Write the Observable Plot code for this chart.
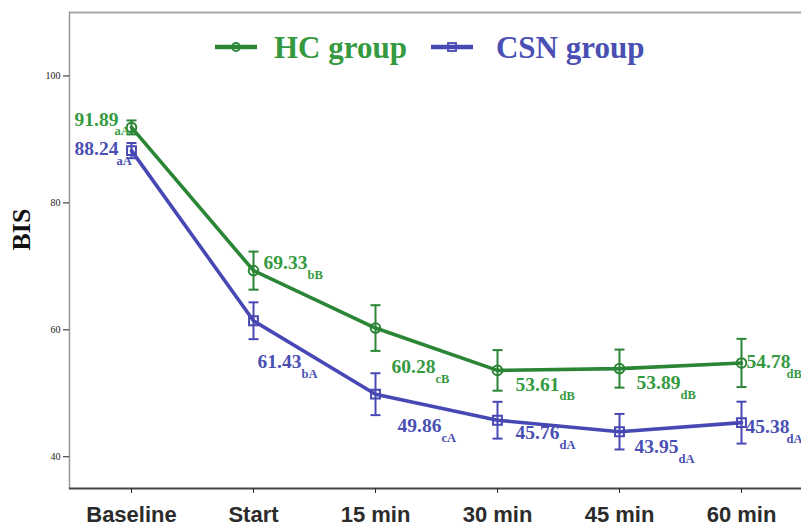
<!DOCTYPE html>
<html>
<head>
<meta charset="utf-8">
<script src="https://cdn.jsdelivr.net/npm/d3@7"></script>
<script src="https://cdn.jsdelivr.net/npm/@observablehq/plot@0.6"></script>
<style>
  html, body { margin: 0; padding: 0; background: #fff; overflow: hidden; }
  #wrap { position: relative; width: 801px; height: 530px; }
  #legend { position: absolute; left: 215px; top: 30px; height: 34px; display: flex; align-items: center;
            font-family: "Liberation Serif", "Times New Roman", serif; font-weight: bold; font-size: 31px; line-height: 1; }
  #legend svg { display: block; }
</style>
</head>
<body>
<div id="wrap">
  <div id="chart"></div>
  <div id="legend"></div>
</div>
<script>
// ---- data ----
const times = ["Baseline", "Start", "15 min", "30 min", "45 min", "60 min"];
const hcMean = [91.89, 69.33, 60.28, 53.61, 53.89, 54.78];
const hcErr = [1.1, 3.0, 3.6, 3.2, 3.0, 3.8];
const hcSig = ["aA", "bB", "cB", "dB", "dB", "dB"];
const csnMean = [88.24, 61.43, 49.86, 45.76, 43.95, 45.38];
const csnErr = [1.2, 2.9, 3.3, 2.9, 2.8, 3.3];
const csnSig = ["aA", "bA", "cA", "dA", "dA", "dA"];
const yTicks = [40, 60, 80, 100];
const groups = ["HC group", "CSN group"];

// ---- layout (label offsets in px, relative to each point; [dx, dy, subscript dx]) ----
const hcLabelOffset = [[-57, -8, 40], [10, -8, 44], [16, 39, 44], [18, 14, 44], [17, 14, 44], [5, -1, 40]];
const csnLabelOffset = [[-57, -2, 42], [4, 41, 44], [22, 32, 44], [18, 13, 44], [15, 15, 44], [4, 4, 41]];

const greenLine = "#2a8535", greenText = "#359a3f";
const blueLine = "#4848b4", blueText = "#4a4fb3";

const hc = times.map((t, i) => ({time: t, mean: hcMean[i], err: hcErr[i], sig: hcSig[i]}));
const csn = times.map((t, i) => ({time: t, mean: csnMean[i], err: csnErr[i], sig: csnSig[i]}));

const capSymbol = {
  draw(ctx, size) {
    const w = Math.sqrt(size / Math.PI);
    ctx.moveTo(-w, 0);
    ctx.lineTo(w, 0);
  }
};

function seriesMarks(data, lineColor, textColor, symbol, offsets) {
  const marks = [
    Plot.line(data, {x: "time", y: "mean", stroke: lineColor, strokeWidth: 3.6}),
    Plot.ruleX(data, {x: "time", y1: d => d.mean - d.err, y2: d => d.mean + d.err, stroke: lineColor, strokeWidth: 2}),
    Plot.dot(data, {x: "time", y: d => d.mean - d.err, symbol: capSymbol, r: 5, stroke: lineColor, strokeWidth: 2}),
    Plot.dot(data, {x: "time", y: d => d.mean + d.err, symbol: capSymbol, r: 5, stroke: lineColor, strokeWidth: 2}),
    Plot.dot(data, {x: "time", y: "mean", symbol, r: symbol === "square" ? 5 : 4.8, stroke: lineColor, strokeWidth: 2, fill: "none"})
  ];
  data.forEach((d, i) => {
    const [dx, dy, sdx] = offsets[i];
    marks.push(Plot.text([d], {x: "time", y: "mean", text: d => d.mean.toFixed(2), dx, dy,
      textAnchor: "start", fill: textColor, fontFamily: "Liberation Serif", fontWeight: "bold", fontSize: 19.5}));
    marks.push(Plot.text([d], {x: "time", y: "mean", text: "sig", dx: dx + sdx, dy: dy + 12,
      textAnchor: "start", fill: textColor, fontFamily: "Liberation Serif", fontWeight: "bold", fontSize: 12.5}));
  });
  return marks;
}

const chart = Plot.plot({
  width: 801,
  height: 530,
  marginLeft: 69,
  marginRight: 0,
  marginTop: 12,
  marginBottom: 42,
  style: {background: "#fff"},
  x: {type: "point", domain: times, range: [130, 742], padding: 0},
  y: {domain: [35, 110]},
  marks: [
    Plot.ruleY([110], {stroke: "#a8a8a8", strokeWidth: 2}),
    Plot.frame({anchor: "left", stroke: "#999", strokeWidth: 1.5}),
    Plot.ruleY([35], {stroke: "#444", strokeWidth: 2}),
    Plot.axisY({ticks: yTicks, tickSize: 6, tickPadding: 3, label: null, fontFamily: "Liberation Serif", fontSize: 10, color: "#222"}),
    Plot.axisX({tickSize: 5, tickPadding: 13, label: null, fontFamily: "Liberation Sans", fontWeight: "bold", fontSize: 22, color: "#2b2b2b"}),
    Plot.text(["BIS"], {frameAnchor: "left", dx: -48, rotate: -90, fontFamily: "Liberation Serif", fontWeight: "bold", fontSize: 26, fill: "#111"}),
    ...seriesMarks(hc, greenLine, greenText, "circle", hcLabelOffset),
    ...seriesMarks(csn, blueLine, blueText, "square", csnLabelOffset)
  ]
});
document.getElementById("chart").appendChild(chart);

// legend
const legend = document.getElementById("legend");
const legendItems = [
  {name: groups[0], line: greenLine, text: greenText, symbol: "circle"},
  {name: groups[1], line: blueLine, text: blueText, symbol: "square"}
];
legendItems.forEach((it, i) => {
  const ns = "http://www.w3.org/2000/svg";
  const s = document.createElementNS(ns, "svg");
  s.setAttribute("width", 42); s.setAttribute("height", 14);
  s.style.marginLeft = i === 0 ? "0px" : "24px";
  const l = document.createElementNS(ns, "line");
  l.setAttribute("x1", 0); l.setAttribute("x2", 42); l.setAttribute("y1", 7); l.setAttribute("y2", 7);
  l.setAttribute("stroke", it.line); l.setAttribute("stroke-width", 4.5);
  s.appendChild(l);
  let m;
  if (it.symbol === "circle") {
    m = document.createElementNS(ns, "circle");
    m.setAttribute("cx", 21); m.setAttribute("cy", 7); m.setAttribute("r", 4);
  } else {
    m = document.createElementNS(ns, "rect");
    m.setAttribute("x", 17); m.setAttribute("y", 3); m.setAttribute("width", 8); m.setAttribute("height", 8);
  }
  m.setAttribute("fill", "none"); m.setAttribute("stroke", it.line); m.setAttribute("stroke-width", 1.8);
  s.appendChild(m);
  legend.appendChild(s);
  const t = document.createElement("span");
  t.textContent = it.name;
  t.style.color = it.text;
  t.style.marginLeft = i === 0 ? "17px" : "23px";
  legend.appendChild(t);
});
</script>
</body>
</html>
